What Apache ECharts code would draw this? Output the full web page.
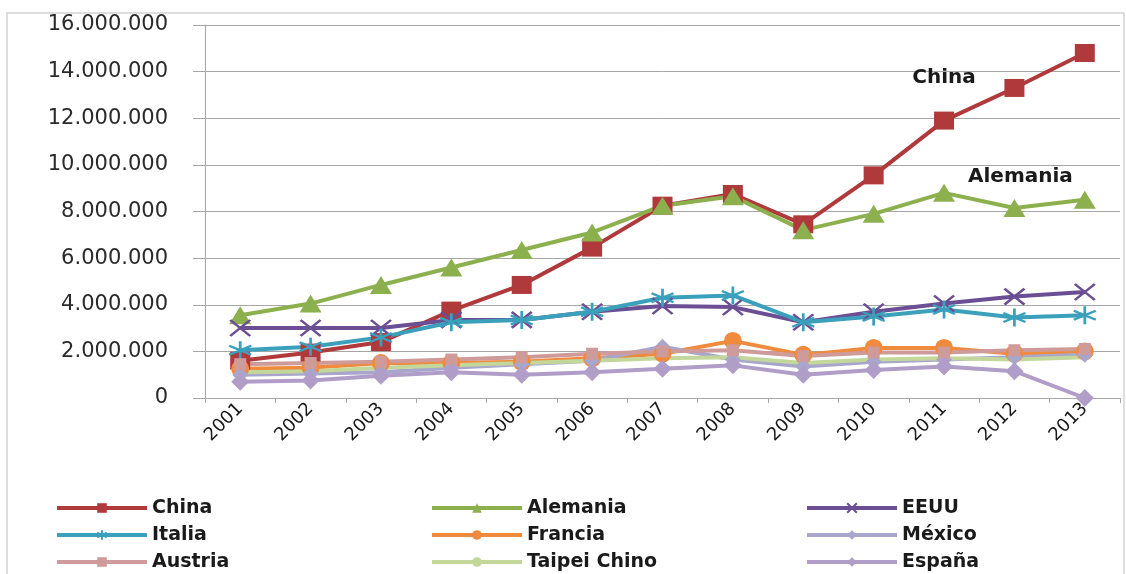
<!DOCTYPE html>
<html>
<head>
<meta charset="utf-8">
<script src="https://cdn.jsdelivr.net/npm/echarts@6/dist/echarts.min.js"></script>
<style>
    html, body { margin: 0; padding: 0; background: #fff; }
    #main { width: 1126px; height: 574px; }
</style>
</head>
<body>
<div id="main"></div>
<script>
var years = ['2001', '2002', '2003', '2004', '2005', '2006', '2007', '2008', '2009', '2010', '2011', '2012', '2013']

var china = [1600000, 1950000, 2400000, 3750000, 4850000, 6450000, 8250000, 8750000, 7450000, 9550000, 11900000, 13300000, 14800000]
var alemania = [3550000, 4050000, 4850000, 5600000, 6350000, 7100000, 8250000, 8650000, 7200000, 7900000, 8800000, 8150000, 8500000]
var eeuu = [3000000, 3000000, 3000000, 3350000, 3350000, 3700000, 3950000, 3900000, 3250000, 3700000, 4050000, 4350000, 4550000]
var italia = [2050000, 2200000, 2600000, 3250000, 3350000, 3700000, 4300000, 4400000, 3250000, 3500000, 3800000, 3450000, 3550000]
var francia = [1250000, 1300000, 1500000, 1500000, 1550000, 1700000, 1900000, 2450000, 1850000, 2150000, 2150000, 1900000, 2000000]
var mexico = [1000000, 1050000, 1100000, 1300000, 1450000, 1600000, 2200000, 1650000, 1350000, 1550000, 1650000, 1750000, 1850000]
var austria = [1450000, 1500000, 1550000, 1650000, 1750000, 1900000, 2000000, 2050000, 1800000, 1950000, 1950000, 2050000, 2100000]
var taipei = [1100000, 1150000, 1300000, 1400000, 1500000, 1600000, 1700000, 1750000, 1500000, 1650000, 1700000, 1650000, 1750000]
var espana = [700000, 750000, 950000, 1100000, 1000000, 1100000, 1250000, 1400000, 1000000, 1200000, 1350000, 1150000, 0]

var yTicks = [0, 2000000, 4000000, 6000000, 8000000, 10000000, 12000000, 14000000, 16000000]

// etiquetas en el grafico: China sobre 2011, Alemania sobre 2012
var chinaLabelAt = 10
var alemaniaLabelAt = 11

function puntos(v) {
    return String(v).replace(/\B(?=(\d{3})+(?!\d))/g, '.')
}

function withLabel(arr, idx, text, opts) {
    var out = []
    for (var i = 0; i < arr.length; i++) {
        if (i == idx) {
            out.push({
                value: arr[i],
                label: Object.assign({
                    show: true,
                    formatter: text,
                    position: 'top',
                    color: '#1a1a1a',
                    fontFamily: 'DejaVu Sans',
                    fontWeight: 'bold',
                    fontSize: 20
                }, opts)
            })
        } else {
            out.push(arr[i])
        }
    }
    return out
}

function serie(name, data, color, symbol, size, opts) {
    var s = {
        name: name,
        type: 'line',
        data: data,
        symbol: symbol,
        symbolSize: size,
        lineStyle: { color: color, width: 4 },
        itemStyle: { color: color },
        emphasis: { disabled: true }
    }
    return Object.assign(s, opts || {})
}

var strokeMark = function (color) {
    return { color: 'rgba(255,255,255,0)', borderColor: color, borderWidth: 2.5 }
}

var myChart = echarts.init(document.getElementById('main'))

var legendText = {
    fontFamily: 'DejaVu Sans',
    fontWeight: 'bold',
    fontSize: 19,
    lineHeight: 20,
    color: '#1a1a1a'
}

function leyenda(names, left) {
    return {
        data: names,
        orient: 'vertical',
        left: left,
        top: 498,
        height: 76,
        padding: 0,
        itemWidth: 90,
        itemHeight: 12,
        itemGap: 7,
        lineStyle: { width: 4 },
        textStyle: legendText,
        selectedMode: false
    }
}

var option = {
    animation: false,
    backgroundColor: '#ffffff',
    graphic: [{
        type: 'rect',
        shape: { x: 7, y: 13, width: 1117, height: 570 },
        style: { fill: 'none', stroke: '#d4d4d4', lineWidth: 1.5 },
        silent: true
    }],
    grid: { left: 205, right: 6, top: 25, bottom: 176 },
    legend: [
        leyenda(['China', 'Italia', 'Austria'], 55),
        leyenda(['Alemania', 'Francia', 'Taipei Chino'], 430),
        leyenda(['EEUU', 'México', 'España'], 805)
    ],
    xAxis: {
        type: 'category',
        data: years,
        boundaryGap: true,
        axisLine: { lineStyle: { color: '#a6a6a6', width: 1 } },
        axisTick: { show: true, length: 5, lineStyle: { color: '#a6a6a6' } },
        axisLabel: {
            rotate: 45,
            margin: 8,
            fontFamily: 'DejaVu Sans',
            fontSize: 18,
            color: '#1a1a1a'
        }
    },
    yAxis: {
        type: 'value',
        min: yTicks[0],
        max: yTicks[yTicks.length - 1],
        interval: yTicks[1] - yTicks[0],
        axisLine: { show: true, lineStyle: { color: '#a6a6a6', width: 1 } },
        axisTick: { show: true, length: 12, lineStyle: { color: '#a6a6a6' } },
        splitLine: { lineStyle: { color: '#a6a6a6', width: 1 } },
        axisLabel: {
            margin: 37,
            fontFamily: 'DejaVu Sans',
            fontSize: 21,
            color: '#2a2a2a',
            formatter: puntos
        }
    },
    series: [
        serie('China', withLabel(china, chinaLabelAt, 'China', { distance: 24 }), '#b0393b', 'rect', [20, 18]),
        serie('Alemania', withLabel(alemania, alemaniaLabelAt, 'Alemania', { distance: 12, offset: [6, 0] }), '#8db04e', 'triangle', [22, 18]),
        serie('EEUU', eeuu, '#6b4e94', 'path://M0,0L10,10M10,0L0,10', [20, 16], { itemStyle: strokeMark('#6b4e94') }),
        serie('Italia', italia, '#3aa0bc', 'path://M5,0L5,10M0,2.5L10,7.5M0,7.5L10,2.5', [22, 18], { itemStyle: strokeMark('#3aa0bc') }),
        serie('Francia', francia, '#f08a3c', 'circle', 18),
        serie('México', mexico, '#a8a6cc', 'diamond', 16),
        serie('Austria', austria, '#cf9a9a', 'rect', 12),
        serie('Taipei Chino', taipei, '#c4d79b', 'none', 1),
        serie('España', espana, '#b09dc8', 'diamond', 18)
    ]
}

myChart.setOption(option)
</script>
</body>
</html>
